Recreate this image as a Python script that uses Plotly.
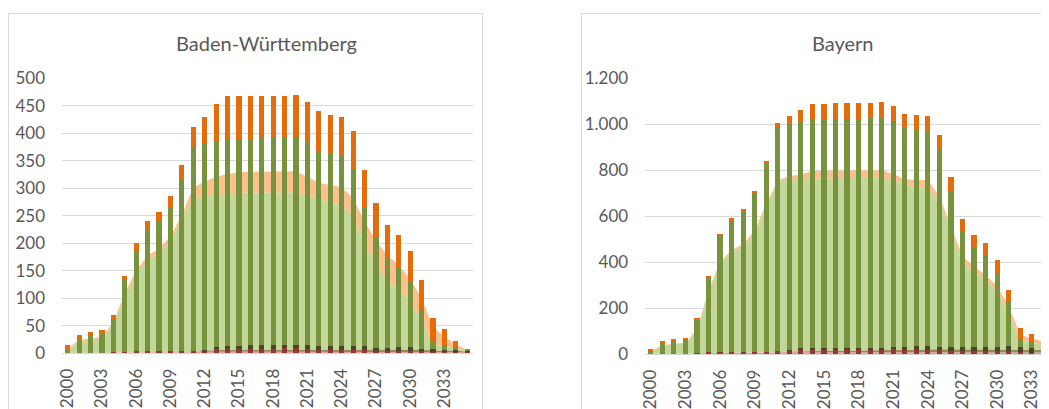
import plotly.graph_objects as go

W, H = 1049, 409
OFF = 8  # page body margin in the browser

years = list(range(2000, 2036))
tick_years = list(range(2000, 2036, 3))
tick_labels = [str(y) for y in tick_years]

bw_yticks = [0, 50, 100, 150, 200, 250, 300, 350, 400, 450, 500]
bw_yticklabels = [str(v) for v in bw_yticks]
by_yticks = [0, 200, 400, 600, 800, 1000, 1200]
by_yticklabels = ["0", "200", "400", "600", "800", "1.000", "1.200"]

# ---- Baden-Württemberg: stacked columns ----
bw_bar_red = [0, 0, 0, 0, 1, 1, 3, 3, 3, 3, 3, 4, 5, 7, 7, 7, 8, 8, 8, 9, 9, 8, 6, 6, 6, 6, 5, 4, 4, 4, 4, 3, 2, 1, 1, 1]
bw_bar_brown = [0, 0, 0, 0, 0, 0, 0, 0, 0, 0, 0, 0, 1, 4, 6, 6, 6, 6, 6, 6, 6, 6, 6, 6, 6, 6, 7, 6, 6, 7, 7, 5, 5, 5, 4, 4]
bw_bar_green = [8, 24, 32, 35, 61, 131, 182, 220, 235, 262, 312, 371, 375, 375, 377, 377, 376, 378, 378, 377, 377, 370, 356, 349, 347, 320, 251, 199, 163, 145, 119, 72, 14, 9, 6, 3]
bw_bar_orange = [7, 9, 6, 7, 8, 8, 15, 17, 19, 21, 27, 36, 49, 67, 77, 77, 78, 76, 76, 76, 78, 73, 72, 71, 71, 71, 69, 64, 59, 59, 56, 52, 42, 29, 10, 0]

# ---- Baden-Württemberg: stacked areas ----
bw_area_red = [1, 1, 1, 1, 1, 2, 2, 2, 2, 2, 2, 2, 3, 3, 3, 3, 3, 3, 3, 3, 3, 3, 3, 3, 3, 3, 3, 3, 3, 3, 3, 3, 2, 2, 2, 1]
bw_area_olive = [0, 0, 0, 0, 0, 0, 0, 0, 0, 0, 0, 0, 2, 3, 4, 4, 4, 4, 4, 4, 4, 4, 4, 4, 4, 4, 4, 4, 4, 4, 4, 4, 3, 3, 3, 2]
bw_area_green = [5, 20, 22, 24, 51, 103, 141, 168, 180, 203, 240, 280, 280, 282, 284, 285, 285, 286, 286, 286, 286, 280, 273, 267, 261, 243, 191, 156, 123, 109, 89, 53, 11, 7, 3, 1]
bw_area_orange = [3, 3, 4, 4, 5, 5, 8, 8, 8, 8, 9, 20, 27, 33, 35, 37, 38, 37, 37, 37, 38, 34, 30, 32, 34, 32, 42, 42, 48, 44, 39, 40, 32, 18, 8, 2]

# ---- Bayern: stacked columns ----
by_bar_red = [2, 2, 2, 2, 3, 8, 9, 10, 10, 10, 10, 14, 16, 20, 20, 20, 20, 20, 20, 20, 20, 20, 18, 18, 18, 16, 14, 12, 12, 12, 12, 12, 8, 6, 6, 6]
by_bar_brown = [0, 0, 0, 0, 0, 0, 0, 0, 0, 0, 0, 0, 2, 6, 6, 6, 6, 6, 6, 8, 8, 10, 12, 16, 16, 16, 16, 18, 18, 18, 20, 22, 22, 22, 22, 20]
by_bar_green = [12, 47, 55, 60, 148, 325, 507, 570, 606, 684, 818, 973, 982, 981, 993, 996, 996, 996, 996, 998, 998, 982, 953, 941, 937, 856, 673, 499, 435, 402, 320, 191, 37, 30, 20, 9]
by_bar_orange = [8, 6, 5, 6, 5, 7, 7, 13, 14, 15, 11, 17, 36, 54, 68, 65, 69, 69, 69, 65, 70, 65, 62, 66, 65, 64, 65, 59, 54, 51, 57, 55, 46, 29, 14, 5]

# ---- Bayern: stacked areas ----
by_area_red = [2, 2, 2, 2, 3, 6, 6, 6, 6, 6, 6, 8, 10, 10, 10, 10, 10, 10, 10, 10, 10, 10, 10, 10, 10, 10, 10, 10, 10, 10, 10, 10, 8, 8, 8, 8]
by_area_olive = [0, 0, 0, 0, 0, 0, 0, 0, 0, 0, 0, 0, 2, 3, 4, 4, 4, 4, 5, 6, 7, 9, 12, 12, 12, 12, 12, 12, 12, 12, 12, 12, 12, 12, 12, 12]
by_area_green = [9, 35, 41, 46, 102, 269, 390, 440, 462, 520, 636, 742, 749, 749, 750, 750, 750, 750, 751, 753, 752, 739, 714, 704, 700, 649, 519, 374, 338, 301, 250, 156, 42, 30, 20, 12]
by_area_orange = [4, 3, 3, 3, 7, 7, 7, 8, 10, 14, 15, 7, 13, 20, 33, 35, 35, 35, 33, 31, 31, 26, 25, 32, 36, 14, 14, 29, 21, 22, 22, 29, 22, 20, 15, 13]

C_RED_BAR = "#953735"
C_BROWN_BAR = "#4A452A"
C_GREEN_BAR = "#77933C"
C_ORANGE_BAR = "#E46C0A"
C_RED_AREA = "#DCA5A4"
C_OLIVE_AREA = "#948A54"
C_GREEN_AREA = "#C4D79B"
C_ORANGE_AREA = "#FAC090"
TXT = "#595959"
GRID = "#D9D9D9"
FONT = "Lato"

fig = go.Figure()


def add_panel(xa, ya, yb, grp, areas, bars):
    for vals, col in areas:
        fig.add_trace(go.Scatter(
            x=years, y=vals, xaxis=xa, yaxis=ya, stackgroup=grp,
            mode="lines", line=dict(width=0, color=col), fillcolor=col,
            hoverinfo="skip", showlegend=False))
    for vals, col in bars:
        fig.add_trace(go.Bar(
            x=years, y=vals, xaxis=xa, yaxis=yb, width=0.45,
            marker=dict(color=col, line=dict(width=0)),
            showlegend=False))


add_panel("x", "y", "y3", "bw",
          [(bw_area_red, C_RED_AREA), (bw_area_olive, C_OLIVE_AREA),
           (bw_area_green, C_GREEN_AREA), (bw_area_orange, C_ORANGE_AREA)],
          [(bw_bar_red, C_RED_BAR), (bw_bar_brown, C_BROWN_BAR),
           (bw_bar_green, C_GREEN_BAR), (bw_bar_orange, C_ORANGE_BAR)])
add_panel("x2", "y2", "y4", "by",
          [(by_area_red, C_RED_AREA), (by_area_olive, C_OLIVE_AREA),
           (by_area_green, C_GREEN_AREA), (by_area_orange, C_ORANGE_AREA)],
          [(by_bar_red, C_RED_BAR), (by_bar_brown, C_BROWN_BAR),
           (by_bar_green, C_GREEN_BAR), (by_bar_orange, C_ORANGE_BAR)])

tickfont = dict(family=FONT, size=17, color=TXT)


def px_x(v):
    """screen x pixel -> paper fraction"""
    return (v - OFF) / W


def px_y(v):
    """screen y pixel -> paper fraction"""
    return (H - (v - OFF)) / H


BY_LEFT = 645.2
BY_STEP = 11.545
by_xmax = 1999.5 + (W + OFF - BY_LEFT) / BY_STEP

xcommon = dict(tickvals=tick_years, ticktext=tick_labels, tickangle=-90,
               showgrid=False, showline=False, zeroline=False, ticks="",
               tickfont=tickfont, ticklabelstandoff=11, fixedrange=True,
               automargin=False)
ycommon = dict(showgrid=True, gridcolor=GRID, gridwidth=1, showline=False,
               zeroline=True, zerolinecolor=GRID, zerolinewidth=1, ticks="",
               tickfont=tickfont, ticklabelstandoff=16, fixedrange=True,
               automargin=False)

fig.update_layout(
    width=W, height=H,
    margin=dict(l=0, r=0, t=0, b=0, pad=0, autoexpand=False),
    paper_bgcolor="white", plot_bgcolor="white",
    barmode="stack", bargap=0, showlegend=False,
    font=dict(family=FONT, color=TXT),
    xaxis=dict(domain=[px_x(62), px_x(473)], range=[1999.5, 2035.5], anchor="y", **xcommon),
    yaxis=dict(domain=[px_y(353.3), px_y(78.3)], range=[0, 500], anchor="x",
               tickvals=bw_yticks, ticktext=bw_yticklabels, **ycommon),
    yaxis3=dict(overlaying="y", anchor="x", range=[0, 500], visible=False,
                fixedrange=True, automargin=False),
    xaxis2=dict(domain=[px_x(BY_LEFT), 1.0], range=[1999.5, by_xmax],
                anchor="y2", **xcommon),
    yaxis2=dict(domain=[px_y(354.3), px_y(78.3)], range=[0, 1200], anchor="x2",
                tickvals=by_yticks, ticktext=by_yticklabels, **ycommon),
    yaxis4=dict(overlaying="y2", anchor="x2", range=[0, 1200], visible=False,
                fixedrange=True, automargin=False),
    shapes=[
        dict(type="rect", xref="paper", yref="paper",
             x0=px_x(8.5), x1=px_x(482.5), y0=-0.1, y1=px_y(13.5),
             line=dict(color=GRID, width=1), fillcolor="rgba(0,0,0,0)"),
        dict(type="rect", xref="paper", yref="paper",
             x0=px_x(581.5), x1=1.1, y0=-0.1, y1=px_y(13.5),
             line=dict(color=GRID, width=1), fillcolor="rgba(0,0,0,0)"),
    ],
    annotations=[
        dict(text="Baden-Württemberg", xref="paper", yref="paper",
             x=px_x(266.5), y=px_y(43), xanchor="center", yanchor="middle",
             showarrow=False, font=dict(family=FONT, size=20, color=TXT)),
        dict(text="Bayern", xref="paper", yref="paper",
             x=px_x(843), y=px_y(43), xanchor="center", yanchor="middle",
             showarrow=False, font=dict(family=FONT, size=20, color=TXT)),
    ],
)

fig.write_html("out.html")
